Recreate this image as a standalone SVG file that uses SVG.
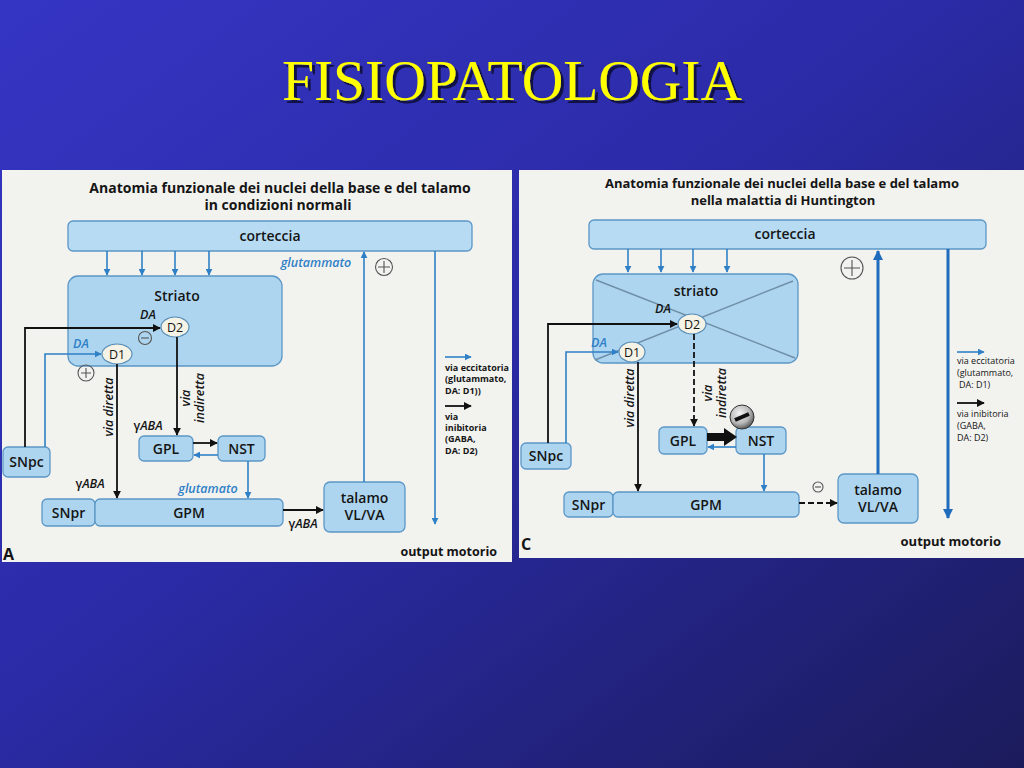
<svg xmlns="http://www.w3.org/2000/svg" width="1024" height="768" viewBox="0 0 1024 768">
<defs>
<linearGradient id="bg" x1="0" y1="0" x2="1" y2="1">
<stop offset="0" stop-color="#3535c4"/>
<stop offset="0.45" stop-color="#2b2ba8"/>
<stop offset="1" stop-color="#1b1b5c"/>
</linearGradient>
<radialGradient id="minusg" cx="0.4" cy="0.35" r="0.7">
<stop offset="0" stop-color="#f4f4f4"/>
<stop offset="0.6" stop-color="#b8b8b8"/>
<stop offset="1" stop-color="#4a4a4a"/>
</radialGradient>
<filter id="shadow" x="-5%" y="-20%" width="110%" height="140%">
<feFlood flood-color="#10103a" flood-opacity="0.9"/>
<feComposite in2="SourceAlpha" operator="in"/>
<feOffset dx="2.5" dy="2.5" result="sh"/>
<feMerge><feMergeNode in="sh"/><feMergeNode in="SourceGraphic"/></feMerge>
</filter>
<marker id="ab" viewBox="0 0 10 10" refX="9" refY="5" markerWidth="7" markerHeight="7" markerUnits="userSpaceOnUse" orient="auto"><path d="M0,0 L10,5 L0,10 z" fill="#2f80c6"/></marker>
<marker id="abB" viewBox="0 0 10 10" refX="9" refY="5" markerWidth="10" markerHeight="10" markerUnits="userSpaceOnUse" orient="auto"><path d="M0,0 L10,5 L0,10 z" fill="#1f6cbc"/></marker>
<marker id="ak" viewBox="0 0 10 10" refX="9" refY="5" markerWidth="8" markerHeight="8" markerUnits="userSpaceOnUse" orient="auto"><path d="M0,0 L10,5 L0,10 z" fill="#111"/></marker>
<style>
.panel{fill:#f2f2ef}
.box{fill:#aed5ef;stroke:#5b97c6;stroke-width:1.3}
.cort{fill:#b6dbf2;stroke:#5b97c6;stroke-width:1.3}
.ell{fill:#f5f3e6;stroke:#5b8fb8;stroke-width:1.2}
.t{font-family:"Open Sans","Liberation Sans",Arial,sans-serif;fill:#151515;text-anchor:middle}
.st{text-anchor:start}
.en{text-anchor:end}
.lbl{font-size:14px;font-weight:600}
.ttlA{font-size:14px;font-weight:bold}
.ttlC{font-size:13px;font-weight:bold}
.it{font-style:italic;font-size:12.5px;font-weight:600}
.g{font-size:12.5px;font-weight:600}
.bl{fill:#2f80c6}
.leg{font-family:"Open Sans","Liberation Sans",Arial,sans-serif;fill:#151515;font-size:9px;text-anchor:start}
.blue{stroke:#2f80c6;stroke-width:1.6;fill:none}
.blueT{stroke:#1f6cbc;stroke-width:3;fill:none}
.black{stroke:#111;stroke-width:1.8;fill:none}
.sign{fill:none;stroke:#555;stroke-width:1.1}
</style>
</defs>
<rect width="1024" height="768" fill="url(#bg)"/>
<g id="title">
<text x="512" y="100" font-family="'Liberation Serif','Times New Roman',serif" font-size="57.5" fill="#ffff00" text-anchor="middle" filter="url(#shadow)">FISIOPATOLOGIA</text>
</g>

<!-- LEFT PANEL A -->
<g id="panelA">
<rect class="panel" x="2" y="170" width="510" height="392"/>
<text class="t ttlA" x="280" y="193">Anatomia funzionale dei nuclei della base e del talamo<tspan x="278" dy="17">in condizioni normali</tspan></text>
<text class="t st" x="3" y="560" font-size="16" font-weight="bold">A</text>
<text class="t en" x="497" y="556" font-size="12.5" font-weight="bold">output motorio</text>
</g>
<g id="A-corteccia"><rect class="cort" x="68" y="221" width="404" height="30" rx="5"/><text class="t lbl" x="270" y="241">corteccia</text></g>
<g id="A-striato"><rect class="box" x="68" y="276" width="214" height="90" rx="10"/><text class="t lbl" x="177" y="301">Striato</text></g>
<g id="A-D2"><ellipse class="ell" cx="175" cy="327" rx="14" ry="10"/><text class="t" x="175" y="331.5" font-size="12.5">D2</text></g>
<g id="A-D1"><ellipse class="ell" cx="117" cy="354" rx="15" ry="10"/><text class="t" x="117" y="358.5" font-size="12.5">D1</text></g>
<g id="A-SNpc"><rect class="box" x="3" y="447" width="47" height="30" rx="5"/><text class="t lbl" x="26.5" y="467">SNpc</text></g>
<g id="A-GPL"><rect class="box" x="139" y="436" width="54" height="25" rx="5"/><text class="t lbl" x="166" y="453.5">GPL</text></g>
<g id="A-NST"><rect class="box" x="218" y="436" width="47" height="25" rx="5"/><text class="t lbl" x="241.5" y="453.5">NST</text></g>
<g id="A-SNpr"><rect class="box" x="42" y="499" width="53" height="27" rx="5"/><text class="t lbl" x="68.5" y="517.5">SNpr</text></g>
<g id="A-GPM"><rect class="box" x="95" y="499" width="188" height="27" rx="5"/><text class="t lbl" x="189" y="517.5">GPM</text></g>
<g id="A-talamo"><rect class="box" x="324" y="482" width="81" height="50" rx="6"/><text class="t lbl" x="364.5" y="503">talamo</text><text class="t lbl" x="364.5" y="520">VL/VA</text></g>

<g id="A-connectors">
<line class="blue" x1="107" y1="251" x2="107" y2="275" marker-end="url(#ab)"/>
<line class="blue" x1="142" y1="251" x2="142" y2="275" marker-end="url(#ab)"/>
<line class="blue" x1="175" y1="251" x2="175" y2="275" marker-end="url(#ab)"/>
<line class="blue" x1="209" y1="251" x2="209" y2="275" marker-end="url(#ab)"/>
<path class="black" d="M25,447 V328 H160" marker-end="url(#ak)"/>
<path class="blue" d="M45,447 V354 H101" marker-end="url(#ab)"/>
<line class="black" x1="117" y1="364" x2="117" y2="498" marker-end="url(#ak)"/>
<line class="black" x1="177" y1="337" x2="177" y2="435" marker-end="url(#ak)"/>
<line class="black" x1="193" y1="443" x2="217" y2="443" marker-end="url(#ak)"/>
<line class="blue" x1="218" y1="455" x2="194" y2="455" marker-end="url(#ab)"/>
<line class="blue" x1="248" y1="461" x2="248" y2="498" marker-end="url(#ab)"/>
<line class="black" x1="283" y1="510" x2="323" y2="510" marker-end="url(#ak)"/>
<line class="blue" x1="364" y1="482" x2="364" y2="252" marker-end="url(#ab)"/>
<line class="blue" x1="435" y1="251" x2="435" y2="524" marker-end="url(#ab)"/>
<text class="t it" x="148" y="319" font-weight="bold">DA</text>
<text class="t it bl" x="81" y="348" font-weight="bold">DA</text>
<circle class="sign" cx="145" cy="338" r="6.5"/><line class="sign" x1="141" y1="338" x2="149" y2="338" stroke-width="1.6"/>
<circle class="sign" cx="86" cy="373" r="8" stroke="#888"/><path class="sign" d="M81,373 H91 M86,368 V378" stroke="#888"/>
<text class="t it" transform="translate(113,407) rotate(-90)">via diretta</text>
<text class="t it" transform="translate(190,398) rotate(-90)">via</text>
<text class="t it" transform="translate(204,398) rotate(-90)">indiretta</text>
<text class="t g" x="148" y="430">γ<tspan font-style="italic">ABA</tspan></text>
<text class="t g" x="90" y="488">γ<tspan font-style="italic">ABA</tspan></text>
<text class="t g" x="303" y="528">γ<tspan font-style="italic">ABA</tspan></text>
<text class="t it bl" x="208" y="493">glutamato</text>
<text class="t it bl" x="316" y="267">glutammato</text>
<circle class="sign" cx="384" cy="267" r="8.5" stroke="#333"/><path class="sign" d="M378,267 H390 M384,261 V273" stroke="#333"/>
</g>
<g id="A-legend">
<line class="blue" x1="445" y1="357" x2="471" y2="357" marker-end="url(#ab)"/>
<text class="leg" font-weight="bold" x="445" y="371">via eccitatoria</text>
<text class="leg" font-weight="bold" x="445" y="382">(glutammato,</text>
<text class="leg" font-weight="bold" x="445" y="394">DA: D1))</text>
<line class="black" x1="445" y1="406" x2="471" y2="406" marker-end="url(#ak)"/>
<text class="leg" font-weight="bold" x="445" y="420">via</text>
<text class="leg" font-weight="bold" x="445" y="431">inibitoria</text>
<text class="leg" font-weight="bold" x="445" y="442">(GABA,</text>
<text class="leg" font-weight="bold" x="445" y="454">DA: D2)</text>
</g>

<!-- RIGHT PANEL C -->
<g id="panelC">
<rect class="panel" x="519" y="170" width="505" height="388"/>
<text class="t ttlC" x="782" y="188">Anatomia funzionale dei nuclei della base e del talamo<tspan x="783" dy="17">nella malattia di Huntington</tspan></text>
<text class="t st" x="521" y="550" font-size="16" font-weight="bold">C</text>
<text class="t en" x="1001" y="546" font-size="13" font-weight="bold">output motorio</text>
</g>
<g id="C-corteccia"><rect class="cort" x="589" y="220" width="397" height="29" rx="5"/><text class="t lbl" x="785" y="239">corteccia</text></g>
<g id="C-striato"><rect class="box" x="593" y="274" width="205" height="89" rx="10"/>
<line x1="596" y1="280" x2="795" y2="358" stroke="#6f8fa8" stroke-width="1.4"/>
<line x1="793" y1="281" x2="595" y2="360" stroke="#6f8fa8" stroke-width="1.4"/>
<text class="t lbl" x="696" y="296" font-weight="normal">striato</text></g>
<g id="C-D2"><ellipse class="ell" cx="692" cy="324" rx="14" ry="10"/><text class="t" x="692" y="328.5" font-size="12.5">D2</text></g>
<g id="C-D1"><ellipse class="ell" cx="632" cy="352" rx="13" ry="10"/><text class="t" x="632" y="356.5" font-size="12.5">D1</text></g>
<g id="C-SNpc"><rect class="box" x="521" y="443" width="50" height="26" rx="5"/><text class="t lbl" x="546" y="461">SNpc</text></g>
<g id="C-GPL"><rect class="box" x="659" y="427" width="48" height="27" rx="5"/><text class="t lbl" x="683" y="445.5">GPL</text></g>
<g id="C-NST"><rect class="box" x="736" y="427" width="50" height="27" rx="5"/><text class="t lbl" x="761" y="445.5">NST</text></g>
<g id="C-SNpr"><rect class="box" x="564" y="492" width="49" height="25" rx="5"/><text class="t lbl" x="588.5" y="509.5">SNpr</text></g>
<g id="C-GPM"><rect class="box" x="613" y="492" width="186" height="25" rx="5"/><text class="t lbl" x="706" y="509.5">GPM</text></g>
<g id="C-talamo"><rect class="box" x="838" y="474" width="80" height="49" rx="6"/><text class="t lbl" x="878" y="495">talamo</text><text class="t lbl" x="878" y="512">VL/VA</text></g>

<g id="C-connectors">
<line class="blue" x1="628" y1="249" x2="628" y2="272" marker-end="url(#ab)"/>
<line class="blue" x1="661" y1="249" x2="661" y2="272" marker-end="url(#ab)"/>
<line class="blue" x1="693" y1="249" x2="693" y2="272" marker-end="url(#ab)"/>
<line class="blue" x1="727" y1="249" x2="727" y2="272" marker-end="url(#ab)"/>
<path class="black" d="M548,443 V324 H677" marker-end="url(#ak)"/>
<path class="blue" d="M566,443 V352 H618" marker-end="url(#ab)"/>
<line class="black" x1="638" y1="362" x2="638" y2="491" marker-end="url(#ak)"/>
<line class="black" x1="694" y1="334" x2="694" y2="426" stroke-dasharray="6,3" marker-end="url(#ak)"/>
<line x1="707" y1="437" x2="726" y2="437" stroke="#111" stroke-width="8"/>
<polygon points="724,428 737,437 724,446" fill="#111"/>
<line class="blue" x1="736" y1="447" x2="708" y2="447" marker-end="url(#ab)"/>
<line class="blue" x1="764" y1="454" x2="764" y2="491" marker-end="url(#ab)"/>
<line class="black" x1="799" y1="503" x2="837" y2="503" stroke-dasharray="6,3" marker-end="url(#ak)"/>
<line class="blueT" x1="878" y1="474" x2="878" y2="251" marker-end="url(#abB)"/>
<line class="blueT" x1="948" y1="249" x2="948" y2="518" marker-end="url(#abB)"/>
<text class="t it" x="663" y="313" font-weight="normal">DA</text>
<text class="t it bl" x="599" y="347" font-weight="normal">DA</text>
<text class="t it" transform="translate(634,398) rotate(-90)" font-weight="normal">via diretta</text>
<text class="t it" transform="translate(712,393) rotate(-90)" font-weight="normal">via</text>
<text class="t it" transform="translate(726,393) rotate(-90)" font-weight="normal">indiretta</text>
<circle cx="742" cy="417" r="12" fill="url(#minusg)" stroke="#333" stroke-width="1"/>
<line x1="735" y1="420" x2="749" y2="414" stroke="#111" stroke-width="4"/>
<circle class="sign" cx="818" cy="487" r="5" stroke="#666"/><line class="sign" x1="815" y1="487" x2="821" y2="487" stroke="#666"/>
<circle class="sign" cx="852" cy="268" r="11" stroke="#222" stroke-width="1.4"/><path class="sign" d="M844,268 H860 M852,260 V276" stroke="#222" stroke-width="1.6"/>
</g>
<g id="C-legend">
<line class="blue" x1="957" y1="352" x2="984" y2="352" marker-end="url(#ab)"/>
<text class="leg" x="957" y="364">via eccitatoria</text>
<text class="leg" x="957" y="376">(glutammato,</text>
<text class="leg" x="959" y="388">DA: D1)</text>
<line class="black" x1="957" y1="403" x2="984" y2="403" marker-end="url(#ak)"/>
<text class="leg" x="957" y="417">via inibitoria</text>
<text class="leg" x="957" y="429">(GABA,</text>
<text class="leg" x="957" y="441">DA: D2)</text>
</g>
</svg>
